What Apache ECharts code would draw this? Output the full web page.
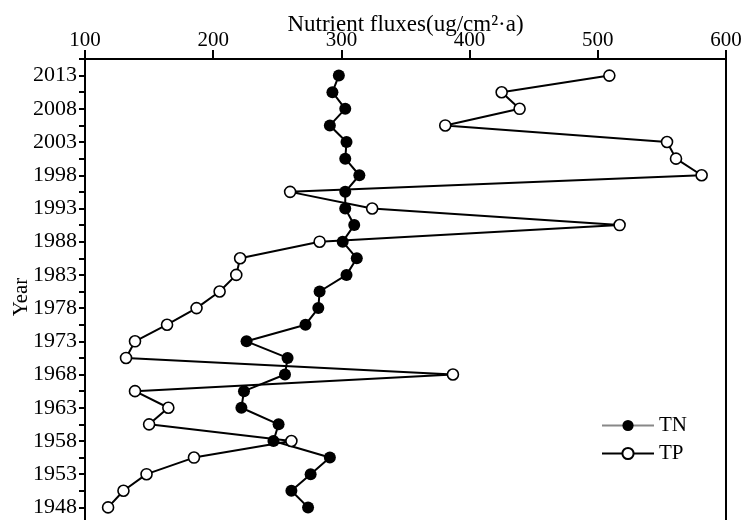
<!DOCTYPE html>
<html>
<head>
<meta charset="utf-8">
<title>Nutrient fluxes</title>
<script src="https://cdn.jsdelivr.net/npm/echarts@6/dist/echarts.min.js"></script>
<style>
  html, body { margin: 0; padding: 0; background: #fff; }
  #main { width: 741px; height: 520px; }
</style>
</head>
<body>
<div id="main"></div>
<script>
const chart = echarts.init(document.querySelector('#main'))

// sampling years, top to bottom
const YEARS = [2013, 2010.5, 2008, 2005.5, 2003, 2000.5, 1998, 1995.5, 1993, 1990.5,
  1988, 1985.5, 1983, 1980.5, 1978, 1975.5, 1973, 1970.5, 1968, 1965.5,
  1963, 1960.5, 1958, 1955.5, 1953, 1950.5, 1948]

// ug/cm2·a
const TN = [298, 293, 303, 291, 304, 303, 314, 303, 303, 310,
  301, 312, 304, 283, 282, 272, 226, 258, 256, 224,
  222, 251, 247, 291, 276, 261, 274]
const TP = [509, 425, 439, 381, 554, 561, 581, 260, 324, 517,
  283, 221, 218, 205, 187, 164, 139, 132, 387, 139,
  165, 150, 261, 185, 148, 130, 118]

const X_TICKS = [100, 200, 300, 400, 500, 600]
const Y_LABELS = [1948, 1953, 1958, 1963, 1968, 1973, 1978, 1983, 1988, 1993, 1998, 2003, 2008, 2013]

const FONT = '"Liberation Serif", "Times New Roman", serif'

function pairs (values) {
  return values.map((v, i) => [v, YEARS[i]])
}

chart.setOption({
  animation: false,
  backgroundColor: '#fff',
  textStyle: { fontFamily: FONT, color: '#000' },
  grid: {
    left: 85,
    right: 15,
    top: 59,
    bottom: -4,
    outerBoundsMode: 'none',
    containLabel: false,
    show: true,
    borderColor: '#000',
    borderWidth: 2
  },
  // y axis title, placed by hand (axis name kept getting pushed to the edge)
  graphic: [
    {
      type: 'text',
      x: 21,
      y: 297,
      rotation: Math.PI / 2,
      style: {
        text: 'Year',
        font: '21px ' + FONT,
        fill: '#000',
        align: 'center',
        verticalAlign: 'middle'
      }
    }
  ],
  legend: {
    orient: 'vertical',
    left: 596,
    top: 410,
    itemWidth: 52,
    itemHeight: 14,
    itemGap: 7,
    textStyle: { fontFamily: FONT, fontSize: 21, color: '#000' },
    data: [
      { name: 'TN', lineStyle: { color: '#888' } },
      { name: 'TP' }
    ]
  },
  xAxis: {
    type: 'value',
    position: 'top',
    min: X_TICKS[0],
    max: X_TICKS[X_TICKS.length - 1],
    interval: 100,
    name: 'Nutrient fluxes(ug/cm²·a)',
    nameLocation: 'middle',
    nameGap: 23,
    nameMoveOverlap: false,
    nameTextStyle: { fontFamily: FONT, fontSize: 23, color: '#000' },
    axisLine: { onZero: false, lineStyle: { color: '#000', width: 2 } },
    axisTick: { inside: false, length: 9, lineStyle: { color: '#000', width: 2 } },
    axisLabel: { margin: 8, fontFamily: FONT, fontSize: 21, color: '#000' },
    splitLine: { show: false }
  },
  yAxis: {
    type: 'value',
    min: 1945.5,
    max: 2015.5,
    interval: 2.5,
    axisLine: { onZero: false, lineStyle: { color: '#000', width: 2 } },
    axisTick: { inside: false, length: 6, lineStyle: { color: '#000', width: 2 } },
    axisLabel: {
      margin: 8,
      fontFamily: FONT,
      fontSize: 22,
      color: '#000',
      showMinLabel: true,
      showMaxLabel: true,
      formatter: v => Y_LABELS.includes(v) ? String(v) : ''
    },
    splitLine: { show: false }
  },
  series: [
    {
      name: 'TN',
      type: 'line',
      data: pairs(TN),
      symbol: 'circle',
      symbolSize: 12,
      showAllSymbol: true,
      itemStyle: { color: '#000', borderColor: '#000', borderWidth: 0 },
      lineStyle: { color: '#000', width: 2 },
      z: 2
    },
    {
      name: 'TP',
      type: 'line',
      data: pairs(TP),
      symbol: 'circle',
      symbolSize: 11,
      showAllSymbol: true,
      itemStyle: { color: '#fff', borderColor: '#000', borderWidth: 1.6 },
      lineStyle: { color: '#000', width: 2 },
      z: 3
    }
  ]
})
</script>
</body>
</html>
